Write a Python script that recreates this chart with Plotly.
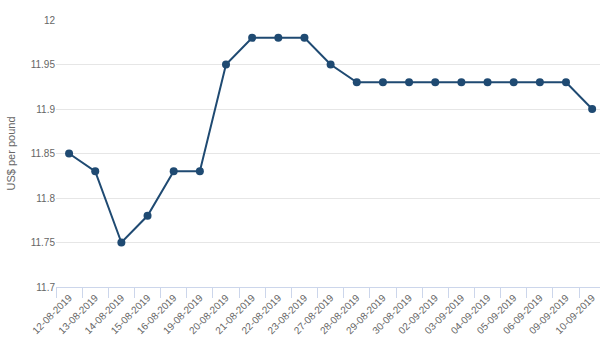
import plotly.graph_objects as go

dates = ["12-08-2019", "13-08-2019", "14-08-2019", "15-08-2019", "16-08-2019",
         "19-08-2019", "20-08-2019", "21-08-2019", "22-08-2019", "23-08-2019",
         "27-08-2019", "28-08-2019", "29-08-2019", "30-08-2019", "02-09-2019",
         "03-09-2019", "04-09-2019", "05-09-2019", "06-09-2019", "09-09-2019",
         "10-09-2019"]
prices = [11.85, 11.83, 11.75, 11.78, 11.83,
          11.83, 11.95, 11.98, 11.98, 11.98,
          11.95, 11.93, 11.93, 11.93, 11.93,
          11.93, 11.93, 11.93, 11.93, 11.93,
          11.90]
y_ticks = [11.7, 11.75, 11.8, 11.85, 11.9, 11.95, 12]
y_labels = ["11.7", "11.75", "11.8", "11.85", "11.9", "11.95", "12"]

fig = go.Figure(go.Scatter(
    x=dates, y=prices, mode="lines+markers",
    line=dict(color="#1f4a72", width=2),
    marker=dict(color="#1f4a72", size=8),
))

fig.update_layout(
    width=600, height=342,
    margin=dict(l=56, r=0, t=20, b=55),
    paper_bgcolor="white", plot_bgcolor="white",
    font=dict(family="Liberation Sans, Arial, sans-serif", color="#666666", size=10),
    showlegend=False,
)
fig.update_xaxes(
    type="category", range=[-0.5, 20.3],
    tickangle=-45, tickson="boundaries", ticks="outside", ticklen=10,
    tickcolor="#ccd6eb", showline=True, linecolor="#ccd6eb", linewidth=1,
    showgrid=False, tickfont=dict(size=10, color="#666666"),
)
fig.update_yaxes(
    range=[11.7, 12], tickvals=y_ticks, ticktext=y_labels,
    showgrid=True, gridcolor="#e6e6e6", zeroline=False,
    tickfont=dict(size=10, color="#666666"),
    title=dict(text="US$ per pound", font=dict(size=11, color="#666666"), standoff=12),
)

fig.write_html("out.html")
